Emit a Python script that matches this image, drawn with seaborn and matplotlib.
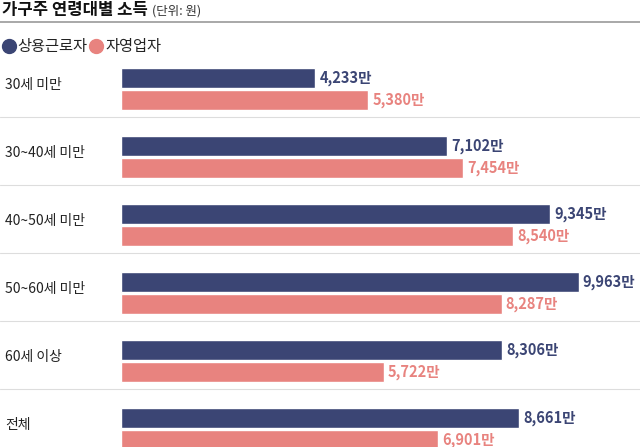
import matplotlib
matplotlib.use("Agg")
import matplotlib.pyplot as plt
import seaborn as sns
import pandas as pd
from matplotlib.lines import Line2D

categories = ["30세 미만", "30~40세 미만", "40~50세 미만", "50~60세 미만", "60세 이상", "전체"]
regular = [4233, 7102, 9345, 9963, 8306, 8661]
self_emp = [5380, 7454, 8540, 8287, 5722, 6901]
series = ["상용근로자", "자영업자"]
colors = ["#3b4574", "#e8837f"]

sns.set_style("white")
plt.rcParams['font.family'] = ['Noto Sans CJK KR', 'DejaVu Sans']

rows = []
for c, a, b in zip(categories, regular, self_emp):
    rows.append({"cat": c, "val": a, "type": series[0]})
    rows.append({"cat": c, "val": b, "type": series[1]})
df = pd.DataFrame(rows)

W, H = 640, 447
fig = plt.figure(figsize=(6.4, 4.47), dpi=100)
top, bot = 55, 463
ax = fig.add_axes([121 / W, (H - bot) / H, (W - 121) / W, (bot - top) / H])
sns.barplot(data=df, y="cat", x="val", hue="type", orient="h", palette=colors,
            width=0.64, gap=0.1, ax=ax, legend=False, saturation=1)
ax.set_xlim(0, 11300)
ax.set_ylim(len(categories) - 0.5, -0.5)
ax.axis("off")

for i, (a, b) in enumerate(zip(regular, self_emp)):
    ax.text(a + 90, i - 0.16, f"{a:,}만", color=colors[0], va="center", ha="left",
            fontsize=10.5, fontweight="bold")
    ax.text(b + 90, i + 0.16, f"{b:,}만", color=colors[1], va="center", ha="left",
            fontsize=10.5, fontweight="bold")
    fig.text(5 / W, 1 - (85 + 68 * i) / H, categories[i], fontsize=10, va="center",
             ha="left", color="#222222")

for i in range(len(categories) - 1):
    y = 1 - (117 + 68 * i) / H
    fig.add_artist(Line2D([0, 1], [y, y], color="#dddddd", lw=0.8))

fig.add_artist(Line2D([0, 1], [1 - 22 / H, 1 - 22 / H], color="#999999", lw=1.2))
fig.text(2 / W, 1 - 10 / H, "가구주 연령대별 소득", fontsize=12, fontweight="bold",
         va="center", ha="left", color="#111111")
fig.text(152 / W, 1 - 11 / H, "(단위: 원)", fontsize=9, va="center", ha="left",
         color="#333333")

fig.add_artist(Line2D([9 / W], [1 - 46 / H], marker="o", markersize=10, color=colors[0], lw=0))
fig.text(17 / W, 1 - 46 / H, series[0], fontsize=11, va="center", color="#222222")
fig.add_artist(Line2D([96 / W], [1 - 46 / H], marker="o", markersize=10, color=colors[1], lw=0))
fig.text(105 / W, 1 - 46 / H, series[1], fontsize=11, va="center", color="#222222")

fig.savefig("out.png", dpi=100)
